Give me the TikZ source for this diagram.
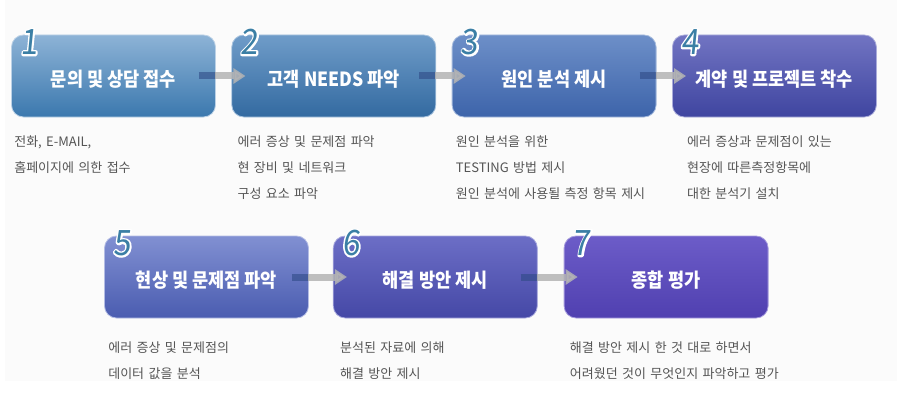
\documentclass[tikz,border=0pt]{standalone}
\usepackage{fontspec}
\setmainfont{Noto Sans CJK KR}
\newfontfamily\titlefont{Noto Sans CJK KR}[FakeStretch=0.9]
\newfontfamily\descfont{Noto Sans CJK KR}[WordSpace=1.5]
\newfontfamily\numfont{Noto Sans CJK KR}[FakeStretch=0.9,FakeSlant=0.1]
\usetikzlibrary{positioning,arrows.meta}

\definecolor{numcol}{HTML}{3B7FA5}
\definecolor{desccol}{HTML}{555555}
\definecolor{flowcol}{HTML}{B4B4B4}
\definecolor{tailcol}{HTML}{2F4A86}
\definecolor{top1}{HTML}{8DB3D6}\definecolor{bot1}{HTML}{3B78AE}
\definecolor{top2}{HTML}{6F9CC9}\definecolor{bot2}{HTML}{336AA0}
\definecolor{top3}{HTML}{6D8FC8}\definecolor{bot3}{HTML}{3D64AA}
\definecolor{top4}{HTML}{7174C2}\definecolor{bot4}{HTML}{3F45A0}
\definecolor{top5}{HTML}{8190D2}\definecolor{bot5}{HTML}{4A5CB0}
\definecolor{top6}{HTML}{6C6EC6}\definecolor{bot6}{HTML}{4548A6}
\definecolor{top7}{HTML}{6C5CC8}\definecolor{bot7}{HTML}{5040B0}

% digit with a white stroked outline behind it
\newcommand\haloed[1]{%
  \rlap{\color{white}\special{pdf:literal direct 2 Tr 3.4 w 1 j}#1\special{pdf:literal direct 0 Tr 0.4 w 0 j}}#1}

\begin{document}
\begin{tikzpicture}
 [x=1pt, y=1pt,
  box node/.style={rectangle, rounded corners=12pt, minimum width=204pt, minimum height=82pt,
    top color=top#1, bottom color=bot#1, draw=top#1!60!white, line width=0.8pt,
    text=white, text height=20pt, text depth=0pt,
    font=\titlefont\bfseries\fontsize{19.5}{22}\selectfont},
  num node/.style={anchor=base west, inner sep=0pt, xshift=9pt, yshift=-20pt, text=numcol,
    font=\numfont\fontsize{35}{35}\selectfont},
  desc node/.style={anchor=base west, inner sep=0pt, align=left, text=desccol,
    font=\descfont\fontsize{13}{26}\selectfont},
  flow/.style={-{Triangle[length=12pt,width=15pt]}, line width=7pt, draw=flowcol, opacity=.85},
  tail/.style={line width=7pt, draw=tailcol, opacity=.6}]

\useasboundingbox (0,0) rectangle (897,-412);
\fill[gray!3] (5,0) rectangle (897,-381);

% first row
\node[box node=1] (b1) at (113.5,-76) {문의 및 상담 접수};
\node[box node=2] (b2) [right=15.5pt of b1] {고객 NEEDS 파악};
\node[box node=3] (b3) [right=15.5pt of b2] {원인 분석 제시};
\node[box node=4] (b4) [right=15.5pt of b3] {계약 및 프로젝트 착수};

% second row
\node[box node=5] (b5) at (206.5,-277) {현상 및 문제점 파악};
\node[box node=6] (b6) [right=24pt of b5] {해결 방안 제시};
\node[box node=7] (b7) [right=26pt of b6] {종합 평가};

% step numbers
\foreach \i in {1,...,7}
  \node[num node] (n\i) at (b\i.north west) {\haloed{\i}};

% arrows
\foreach \s/\t in {b1/b2,b2/b3,b3/b4,b5/b6,b6/b7}{
  \draw[tail] ([xshift=-17pt]\s.east) -- (\s.east);
  \draw[flow, shorten <=-1pt, shorten >=-14pt] (\s) -- (\t);
}

% descriptions (anchored at the baseline of their last line)
\node[desc node] (d1) at ([xshift=3pt,yshift=-55pt]b1.south west) {전화, E-MAIL,\\홈페이지에 의한 접수};
\node[desc node] (d2) at ([xshift=6pt,yshift=-81pt]b2.south west) {에러 증상 및 문제점 파악\\현 장비 및 네트워크\\구성 요소 파악};
\node[desc node] (d3) at ([xshift=4pt,yshift=-81pt]b3.south west) {원인 분석을 위한\\TESTING 방법 제시\\원인 분석에 사용될 측정 항목 제시};
\node[desc node] (d4) at ([xshift=15pt,yshift=-81pt]b4.south west) {에러 증상과 문제점이 있는\\현장에 따른측정항목에\\대한 분석기 설치};
\node[desc node] (d5) at ([xshift=4pt,yshift=-60pt]b5.south west) {에러 증상 및 문제점의\\데이터 값을 분석};
\node[desc node] (d6) at ([xshift=7pt,yshift=-60pt]b6.south west) {분석된 자료에 의해\\해결 방안 제시};
\node[desc node] (d7) at ([xshift=6pt,yshift=-60pt]b7.south west) {해결 방안 제시 한 것 대로 하면서\\어려웠던 것이 무엇인지 파악하고 평가};

\end{tikzpicture}
\end{document}
